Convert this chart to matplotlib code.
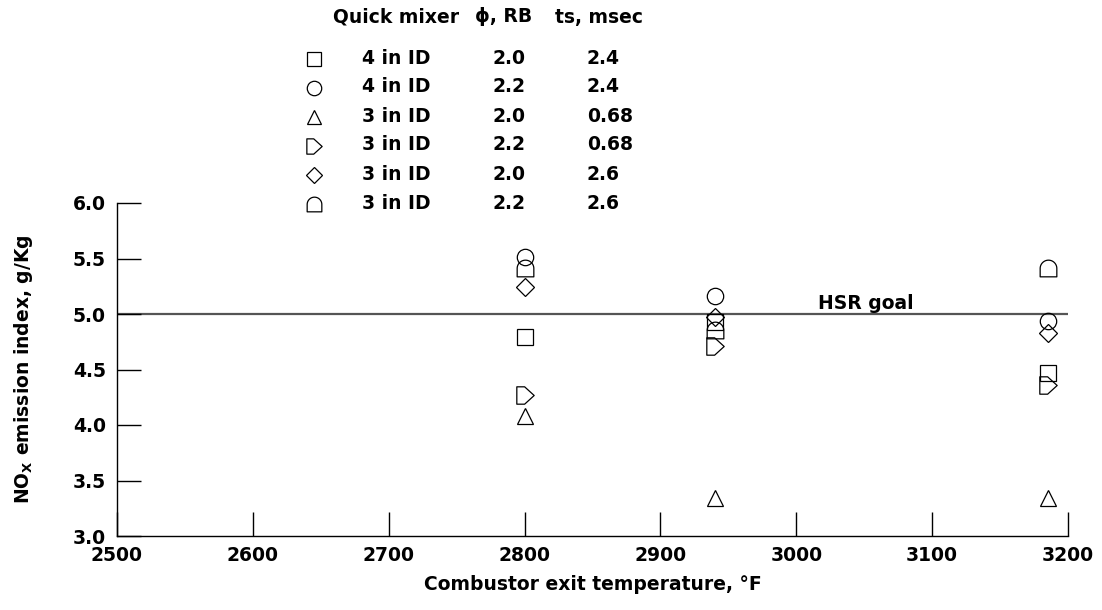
import numpy as np
import matplotlib
matplotlib.use("Agg")
import matplotlib.pyplot as plt
from matplotlib.path import Path

plt.rcParams['font.family'] = ['DejaVu Sans']
plt.rcParams['font.weight'] = 'bold'
plt.rcParams['axes.labelweight'] = 'bold'
plt.rcParams['font.size'] = 13.5
plt.rcParams['mathtext.fontset'] = 'dejavusans'

# exit temperature (F) for each test point
temps = [2800, 2940, 3185]

# NOx emission index (g/kg) for each mixer configuration
nox_4in_20_24 = [4.79, 4.93, 4.47]
nox_4in_22_24 = [5.51, 5.16, 4.94]
nox_3in_20_068 = [4.08, 3.34, 3.34]
nox_3in_22_068 = [4.27, 4.71, 4.36]
nox_3in_20_26 = [5.24, 4.97, 4.83]
nox_3in_22_26 = [5.41, 4.86, 5.41]

mixer = ["4 in ID", "4 in ID", "3 in ID", "3 in ID", "3 in ID", "3 in ID"]
phi = ["2.0", "2.2", "2.0", "2.2", "2.0", "2.2"]
ts = ["2.4", "2.4", "0.68", "0.68", "2.6", "2.6"]

hsr_goal = 5.0

# home-plate marker pointing right
pent = Path([(-1, -1), (-1, 1), (-0.1, 1), (1, 0), (-0.1, -1), (-1, -1)],
            [Path.MOVETO] + [Path.LINETO] * 4 + [Path.CLOSEPOLY])
# dome marker: flat bottom, straight sides, rounded top
th = np.linspace(0, np.pi, 40)
dome_pts = [(1, -1)] + list(zip(np.cos(th), np.sin(th))) + [(-1, -1), (1, -1)]
dome = Path(dome_pts, [Path.MOVETO] + [Path.LINETO] * (len(dome_pts) - 2) + [Path.CLOSEPOLY])

series = [nox_4in_20_24, nox_4in_22_24, nox_3in_20_068,
          nox_3in_22_068, nox_3in_20_26, nox_3in_22_26]
markers = ['s', 'o', '^', pent, 'D', dome]
sizes = [12, 11.8, 11, 12.5, 9.3, 12]

fig = plt.figure(figsize=(11.02, 6.10), dpi=100)
W, H = 1102, 610
ax = fig.add_axes([117 / W, 1 - 536 / H, (1068 - 117) / W, (536 - 203) / H])

ax.plot([2500, 3200], [hsr_goal, hsr_goal], color='#555555', lw=1.6, zorder=1)
ax.text(3016, hsr_goal + 0.045, "HSR goal", ha='left', va='baseline')

for vals, m, ms in zip(series, markers, sizes):
    ax.plot(temps, vals, linestyle='none', marker=m, ms=ms, mfc='none',
            mec='black', mew=0.9, zorder=3)

ax.set_xlim(2500, 3200)
ax.set_ylim(3.0, 6.0)
ax.set_xticks(np.arange(2500, 3201, 100))
ax.set_yticks(np.arange(3.0, 6.01, 0.5))
ax.set_yticklabels([f"{v:.1f}" for v in np.arange(3.0, 6.01, 0.5)])
ax.spines['top'].set_visible(False)
ax.spines['right'].set_visible(False)
for s in ('left', 'bottom'):
    ax.spines[s].set_linewidth(1.0)
ax.tick_params(axis='both', direction='in', length=17, width=1.0, color='black')
ax.tick_params(axis='y', pad=8)
ax.tick_params(axis='x', pad=7)

ax.set_xlabel("Combustor exit temperature, °F")
ax.xaxis.set_label_coords(0.5, -0.118)
ax.set_ylabel(r"NO$_{\mathbf{X}}$ emission index, g/Kg")
ax.yaxis.set_label_coords(-0.086, 0.5)

# table-style key above the plot
fig.text(333 / W, 1 - 17 / H, "Quick mixer", ha='left', va='center')
fig.text(475 / W, 1 - 17 / H, "ϕ, RB", ha='left', va='center')
fig.text(555 / W, 1 - 17 / H, "ts, msec", ha='left', va='center')
for i in range(len(series)):
    y = 1 - (58 + 29 * i) / H
    ax.plot([314 / W], [1 - (59 + 29 * i) / H], transform=fig.transFigure,
            clip_on=False, linestyle='none', marker=markers[i], ms=sizes[i] * 0.88,
            mfc='none', mec='black', mew=0.9)
    fig.text(362 / W, y, mixer[i], ha='left', va='center')
    fig.text(493 / W, y, phi[i], ha='left', va='center')
    fig.text(587 / W, y, ts[i], ha='left', va='center')

plt.savefig("out.png", dpi=100)
